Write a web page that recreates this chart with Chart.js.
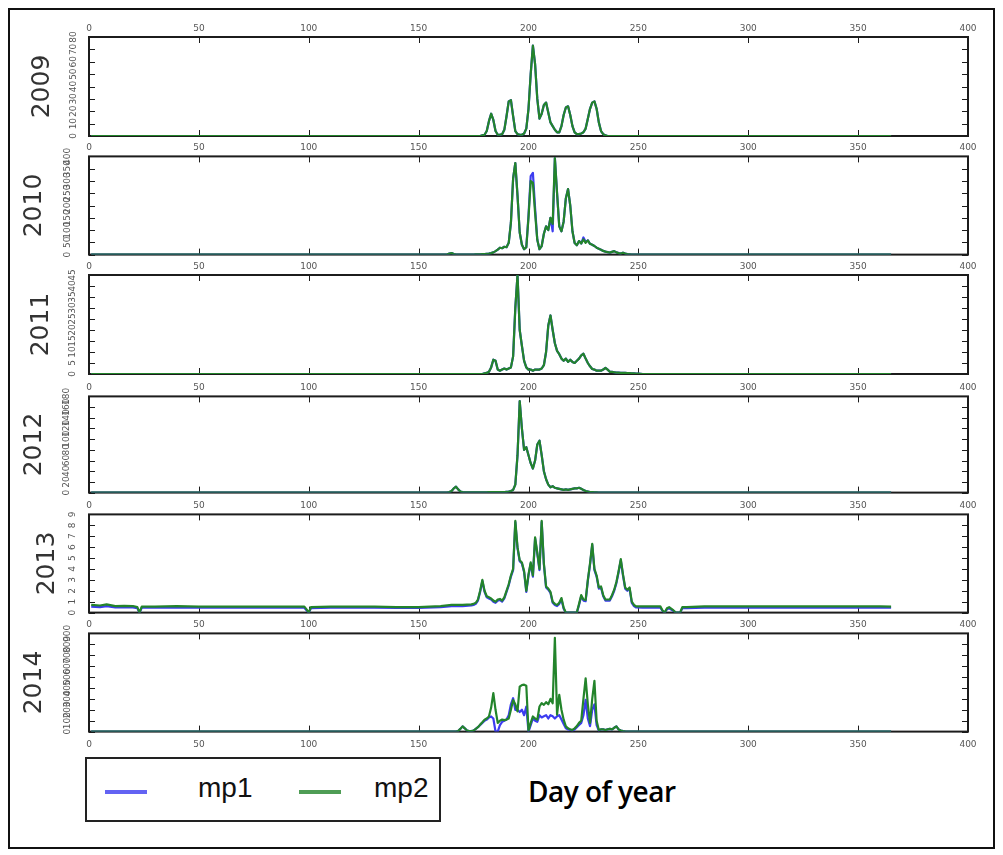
<!DOCTYPE html>
<html>
<head>
<meta charset="utf-8">
<script src="https://cdn.jsdelivr.net/npm/chart.js@4.4.1/dist/chart.umd.min.js"></script>
<style>
  html, body { margin: 0; padding: 0; background: #fff; }
  #page { position: relative; width: 1003px; height: 855px; overflow: hidden; background: #fff; }
  #frame { position: absolute; left: 8px; top: 8px; width: 983px; height: 837px; border: 2px solid #111; }
  #page canvas { position: absolute; left: 0; }
  #legend { position: absolute; left: 85px; top: 757px; width: 352px; height: 61px; border: 2px solid #222;
            font-family: "Liberation Sans", Arial, sans-serif; font-size: 28px; color: #111; }
  #legend .swatch { position: absolute; top: 31px; width: 42px; height: 4px; }
  #legend .name { position: absolute; top: 13px; line-height: 32px; }
  #xlabel { position: absolute; left: 528px; top: 774px; font-family: "Open Sans", sans-serif; font-weight: 600;
            font-size: 28px; line-height: 34px; color: #000; letter-spacing: -0.5px; }
</style>
</head>
<body>
<div id="page">
  <div id="frame"></div>
  <div id="legend"></div>
  <div id="xlabel">Day of year</div>
</div>
<script>
// ---- data: daily values of mp1 / mp2 per season (day of year -> value) ----
const YEARS = ['2009', '2010', '2011', '2012', '2013', '2014'];
const Y_MAX = [80, 400, 45, 180, 9, 900];
const Y_STEP = [10, 50, 5, 20, 1, 100];
const X_MIN = 0, X_MAX = 400, X_STEP = 50;

const days2009 = [1,176,177,178,179,180,181,182,183,184,185,186,187,188,189,190,191,192,193,194,195,196,197,198,199,
  200,201,202,203,204,205,206,207,208,209,210,211,212,213,214,215,216,217,218,219,220,221,222,223,224,225,226,227,228,229,
  230,231,232,233,234,235,236,365];
const mp2_2009 = [0,0,0,0,0.5,1,4,12,18,13,4,1,1,1.5,5,16,28,29,16,4,1.5,1,1,2,6,
  22,50,73,58,30,14,18,25,27,19,11,8,5,3,3,8,17,23,24,17,8,3,1.5,1.5,2,3,6,14,22,27,
  28,22,11,4,1.5,0.5,0,0];
const mp1_2009 = [0,0,0,0,0.5,1,4,12,18,13,4,1,1,1.5,5,16,28,29,16,4,1.5,1,1,2,6,
  22,50,73,58,30,14,18,25,27,19,11,8,5,3,3,8,17,23,24,17,8,3,1.5,1.5,2,3,6,14,22,27,
  28,22,11,4,1.5,0.5,0,0];

const days2010 = [1,160,161,162,163,164,165,166,167,168,169,170,171,172,173,174,175,176,177,178,179,
  180,181,182,183,184,185,186,187,188,189,190,191,192,193,194,195,196,197,198,199,
  200,201,202,203,204,205,206,207,208,209,210,211,212,213,214,215,216,217,218,219,
  220,221,222,223,224,225,226,227,228,229,230,231,232,233,234,235,236,237,238,239,
  240,241,242,243,244,245,246,247,248,365];
const mp2_2010 = [0,0,0,0,1,4,6,2,0,0,0,0,0,0,0,0,0,1,1,1,2,
  2,3,4,6,9,14,20,28,26,32,30,48,130,310,373,240,90,40,22,30,
  150,300,292,170,60,22,35,85,115,100,150,125,393,250,115,95,135,230,267,200,
  95,47,38,55,45,62,48,58,44,40,35,28,24,20,15,12,10,8,11,14,
  9,6,4,8,4,2,1,0,0,0];
const mp1_2010 = [0,0,0,0,1,4,6,2,0,0,0,0,0,0,0,0,0,1,1,1,2,
  2,3,4,6,9,14,20,28,26,32,30,48,130,310,373,240,90,40,22,30,
  160,320,333,190,60,22,35,85,115,100,150,95,393,250,115,95,135,230,267,200,
  95,47,38,55,45,70,52,58,44,40,35,28,24,20,15,12,10,8,11,14,
  9,6,4,8,4,2,1,0,0,0];

const days2011 = [1,178,179,180,181,182,183,184,185,186,187,188,189,190,191,192,193,194,195,196,197,198,199,
  200,201,202,203,204,205,206,207,208,209,210,211,212,213,214,215,216,217,218,219,
  220,221,222,223,224,225,226,227,228,229,230,231,232,233,234,235,236,237,238,239,
  240,241,242,243,244,245,246,247,248,249,250,251,252,365];
const mp2_2011 = [0,0,0,0.3,0.5,1,3,6.5,6,2,1.5,2,2.5,2,2.5,3,8,30,45,20,12.8,6,3,
  2,2,1.5,2,2,2,2.5,4,10,22,26.6,20,14,10.5,9,7,6,7,5.5,6.5,
  5.5,5,6,7,8.5,9.2,7,5,3.5,2.3,2,1.5,1.5,1.5,2,2.8,2,1,1,0.8,
  0.6,0.6,0.5,0.5,0.5,0.4,0.4,0.3,0.3,0.2,0.2,0.1,0,0];
const mp1_2011 = [0,0,0,0.3,0.5,1,3,6.5,6,2,1.5,2,2.5,2,2.5,3,8,30,45,20,12.8,6,3,
  2,2,1.5,2,2,2,2.5,4,10,22,26.6,20,14,10.5,9,7,6,7,5.5,6.5,
  5.5,5,6,7,8.5,9.2,7,5,3.5,2.3,2,1.5,1.5,1.5,2,2.8,2,1,1,0.8,
  0.6,0.6,0.5,0.5,0.5,0.4,0.4,0.3,0.3,0.2,0.2,0.1,0,0];

const days2012 = [1,160,161,162,163,164,165,166,167,168,169,170,171,172,173,174,175,176,177,178,179,
  180,181,182,183,184,185,186,187,188,189,190,191,192,193,194,195,196,197,198,199,
  200,201,202,203,204,205,206,207,208,209,210,211,212,213,214,215,216,217,218,219,
  220,221,222,223,224,225,226,227,228,229,230,231,232,365];
const mp2_2012 = [0,0,0,0,0,1,3,8,11,6,2,1,0.5,0.5,0.5,0.5,0.5,0.5,0.5,0.5,0.5,
  0.5,0.5,1,1,1,1,1,1,1,1,1.5,2,3,5,15,70,171,120,80,85,
  70,55,45,60,90,97,70,40,25,15,10,12,9,8,7,6,5,6,5,6,
  7,8,8,9,7,5,3,2,1,1,0.5,0.3,0,0];
const mp1_2012 = [0,0,0,0,0,1,3,8,11,6,2,1,0.5,0.5,0.5,0.5,0.5,0.5,0.5,0.5,0.5,
  0.5,0.5,1,1,1,1,1,1,1,1,1.5,2,3,5,15,70,171,120,80,85,
  70,55,45,60,90,97,70,40,25,15,10,12,9,8,7,6,5,6,5,6,
  7,8,8,9,7,5,3,2,1,1,0.5,0.3,0,0];

const days2013 = [1,5,8,12,16,20,22,23,24,30,40,50,60,70,80,90,98,99,100,101,110,120,130,140,150,160,165,170,174,
  175,176,177,178,179,180,181,182,183,184,185,186,187,188,189,190,191,192,193,194,195,196,197,198,199,
  200,201,202,203,204,205,206,207,208,209,210,211,212,213,214,215,216,217,218,219,
  220,221,222,223,224,225,226,227,228,229,230,231,232,233,234,235,236,237,238,239,
  240,241,242,243,244,245,246,247,248,249,
  252,256,260,261,262,263,264,266,267,269,270,272,280,290,300,310,320,330,340,350,360,365];
const mp2_2013 = [0.7,0.65,0.75,0.6,0.62,0.6,0.5,0,0.55,0.55,0.6,0.55,0.55,0.55,0.55,0.55,0.55,0.3,0,0.5,0.55,0.55,0.55,0.5,0.5,0.6,0.7,0.7,0.75,
  0.8,0.9,1.2,2.0,3.0,2.0,1.5,1.4,1.3,1.1,1.0,1.2,1.25,1.1,1.4,2.0,2.6,3.4,4.0,8.4,6.0,4.8,4.6,3.8,2.0,
  3.5,4.6,3.4,6.9,5.5,4.0,8.4,4.5,2.4,2.2,1.9,1.0,0.8,0.7,0.9,1.33,0.45,0,0,0,
  0,0,0,0.8,1.6,1.2,1.15,3.0,4.5,6.3,4.0,3.4,2.3,2.4,1.6,1.2,1.2,1.2,1.6,2.1,
  2.8,3.8,4.9,3.5,2.3,2.1,2.3,1.0,0.7,0.57,
  0.57,0.57,0.57,0.2,0,0.4,0.5,0.2,0,0,0.5,0.5,0.57,0.57,0.57,0.57,0.57,0.57,0.57,0.57,0.57,0.55];
const mp1_2013 = [0.55,0.5,0.6,0.48,0.5,0.48,0.4,0,0.45,0.45,0.48,0.45,0.45,0.45,0.45,0.45,0.45,0.2,0,0.4,0.45,0.45,0.45,0.42,0.42,0.5,0.6,0.6,0.65,
  0.7,0.8,1.1,1.9,2.9,1.9,1.4,1.3,1.2,1.0,0.9,1.1,1.15,1.0,1.3,1.9,2.5,3.3,3.9,8.3,5.9,4.7,4.5,3.7,1.9,
  3.4,4.5,3.3,6.8,5.4,3.9,8.3,4.4,2.3,2.1,1.8,0.9,0.7,0.6,0.8,1.2,0.35,0,0,0,
  0,0,0,0.7,1.5,1.1,1.05,2.9,4.4,6.2,3.9,3.3,2.2,2.3,1.5,1.1,1.1,1.1,1.5,2.0,
  2.7,3.7,4.8,3.4,2.2,2.0,2.2,0.9,0.6,0.47,
  0.45,0.45,0.45,0.15,0,0.3,0.4,0.15,0,0,0.4,0.4,0.45,0.45,0.45,0.45,0.45,0.45,0.45,0.45,0.45,0.45];

const days2014 = [1,165,166,167,168,169,170,171,172,173,174,175,176,177,178,179,
  180,181,182,183,184,185,186,187,188,189,190,191,192,193,194,195,196,197,198,199,
  200,201,202,203,204,205,206,207,208,209,210,211,212,213,214,215,216,217,218,219,
  220,221,222,223,224,225,226,227,228,229,230,231,232,233,234,235,236,237,238,239,
  240,241,242,243,244,245,246,247,248,365];
const mp2_2014 = [0,0,0,0,5,25,48,30,10,5,5,10,25,40,64,85,
  109,120,139,220,352,200,80,100,110,105,110,120,200,290,250,185,412,427,430,420,
  10,80,139,120,109,230,260,245,270,250,300,260,860,155,336,200,109,48,30,20,
  15,30,50,80,100,300,488,250,80,300,465,100,15,20,20,15,20,25,20,35,
  48,20,10,5,2,0,0,0,0,0];
const mp1_2014 = [0,0,0,0,5,25,48,30,10,5,5,10,25,40,60,80,
  100,110,130,139,120,0,0,60,90,100,110,150,250,306,200,200,180,200,150,230,
  0,60,120,100,90,150,130,140,150,120,150,140,120,140,150,110,70,30,20,15,
  10,20,40,60,80,150,291,120,50,200,250,60,10,20,20,15,20,25,20,35,
  48,20,10,5,2,0,0,0,0,0];

// ---- layout and styling ----
const PANEL_TOP = [37, 156, 275, 395, 514, 633];
const PLOT_H = 99, TOP_H = 18, BOT_H = 18;
const PLOT_LEFT = 89, PLOT_RIGHT = 968, WIDTH = 1003;
const YEAR_LABEL_PAD = [27, 19, 26, 19, 32, 19];
const Y_TICK_PAD = [10, 13, 11, 14, 13, 13];
const BLUE = '#3c3cf0';
const GREEN = '#23842b';

const panels = [
  { days: days2009, mp1: mp1_2009, mp2: mp2_2009 },
  { days: days2010, mp1: mp1_2010, mp2: mp2_2010 },
  { days: days2011, mp1: mp1_2011, mp2: mp2_2011 },
  { days: days2012, mp1: mp1_2012, mp2: mp2_2012 },
  { days: days2013, mp1: mp1_2013, mp2: mp2_2013 },
  { days: days2014, mp1: mp1_2014, mp2: mp2_2014 }
];

const toPoints = (days, vals) => days.map((d, i) => ({ x: d, y: vals[i] }));

// axes box with inward tick marks on all four sides
const boxPlugin = {
  id: 'axesBox',
  beforeDatasetsDraw(chart) {
    const { ctx, chartArea: a, scales } = chart;
    ctx.save();
    ctx.strokeStyle = '#1c1c1c';
    ctx.lineWidth = 1;
    ctx.beginPath();
    scales.x.ticks.forEach(t => {
      const px = Math.round(scales.x.getPixelForValue(t.value)) + 0.5;
      ctx.moveTo(px, a.top); ctx.lineTo(px, a.top + 6);
      ctx.moveTo(px, a.bottom - 6); ctx.lineTo(px, a.bottom);
    });
    scales.y.ticks.forEach(t => {
      const py = Math.round(scales.y.getPixelForValue(t.value)) + 0.5;
      ctx.moveTo(a.left, py); ctx.lineTo(a.left + 6, py);
      ctx.moveTo(a.right - 6, py); ctx.lineTo(a.right, py);
    });
    ctx.stroke();
    ctx.lineWidth = 2;
    ctx.strokeRect(a.left, a.top, a.right - a.left, a.bottom - a.top);
    ctx.restore();
  }
};

const page = document.getElementById('page');
const charts = [];

panels.forEach((p, k) => {
  const canvas = document.createElement('canvas');
  const h = TOP_H + PLOT_H + BOT_H;
  canvas.width = WIDTH; canvas.height = h;
  canvas.style.width = WIDTH + 'px'; canvas.style.height = h + 'px';
  canvas.style.top = (PANEL_TOP[k] - TOP_H) + 'px';
  page.appendChild(canvas);
  const last = k === panels.length - 1;
  const tickFont = { family: 'DejaVu Sans', size: 9 };

  charts.push(new Chart(canvas, {
    type: 'line',
    data: {
      datasets: [
        { label: 'mp1', data: toPoints(p.days, p.mp1), borderColor: BLUE, backgroundColor: BLUE,
          borderWidth: 2.2, pointRadius: 0, tension: 0, borderJoinStyle: 'round', order: 1 },
        { label: 'mp2', data: toPoints(p.days, p.mp2), borderColor: GREEN, backgroundColor: GREEN,
          borderWidth: 2.2, pointRadius: 0, tension: 0, borderJoinStyle: 'round', order: 0 }
      ]
    },
    options: {
      responsive: false,
      animation: false,
      events: [],
      layout: { padding: { left: 0, right: WIDTH - PLOT_RIGHT, top: 0, bottom: 0 } },
      plugins: { legend: { display: false }, tooltip: { enabled: false } },
      scales: {
        x: {
          type: 'linear', position: 'top', min: X_MIN, max: X_MAX,
          ticks: { stepSize: X_STEP, font: tickFont, color: '#555', padding: 3, maxRotation: 0, autoSkip: false },
          grid: { drawOnChartArea: false, drawTicks: false },
          border: { display: false },
          afterFit(s) { s.height = TOP_H; }
        },
        xb: {
          type: 'linear', position: 'bottom', min: X_MIN, max: X_MAX,
          ticks: { display: last, stepSize: X_STEP, font: tickFont, color: '#555', padding: 8, maxRotation: 0, autoSkip: false },
          grid: { drawOnChartArea: false, drawTicks: false },
          border: { display: false },
          afterFit(s) { s.height = BOT_H; }
        },
        y: {
          type: 'linear', position: 'left', min: 0, max: Y_MAX[k],
          ticks: { stepSize: Y_STEP[k], font: tickFont, color: '#555', padding: Y_TICK_PAD[k],
                   minRotation: 90, maxRotation: 90, crossAlign: 'center', autoSkip: false },
          grid: { drawOnChartArea: false, drawTicks: false },
          border: { display: false },
          title: { display: true, text: YEARS[k], color: '#333',
                   font: { family: 'DejaVu Sans', size: 25 }, padding: { top: YEAR_LABEL_PAD[k], bottom: 0 } },
          afterFit(s) { s.width = PLOT_LEFT; }
        }
      }
    },
    plugins: [boxPlugin]
  }));
});

// legend built from the datasets of the charts
const LEGEND_POS = [[18, 111], [212, 287]];
const legend = document.getElementById('legend');
charts[0].data.datasets.forEach((ds, i) => {
  const sw = document.createElement('span');
  sw.className = 'swatch';
  sw.style.left = LEGEND_POS[i][0] + 'px';
  sw.style.background = ds.borderColor;
  sw.style.opacity = '0.8';
  legend.appendChild(sw);
  const nm = document.createElement('span');
  nm.className = 'name';
  nm.style.left = LEGEND_POS[i][1] + 'px';
  nm.textContent = ds.label;
  legend.appendChild(nm);
});
</script>
</body>
</html>
